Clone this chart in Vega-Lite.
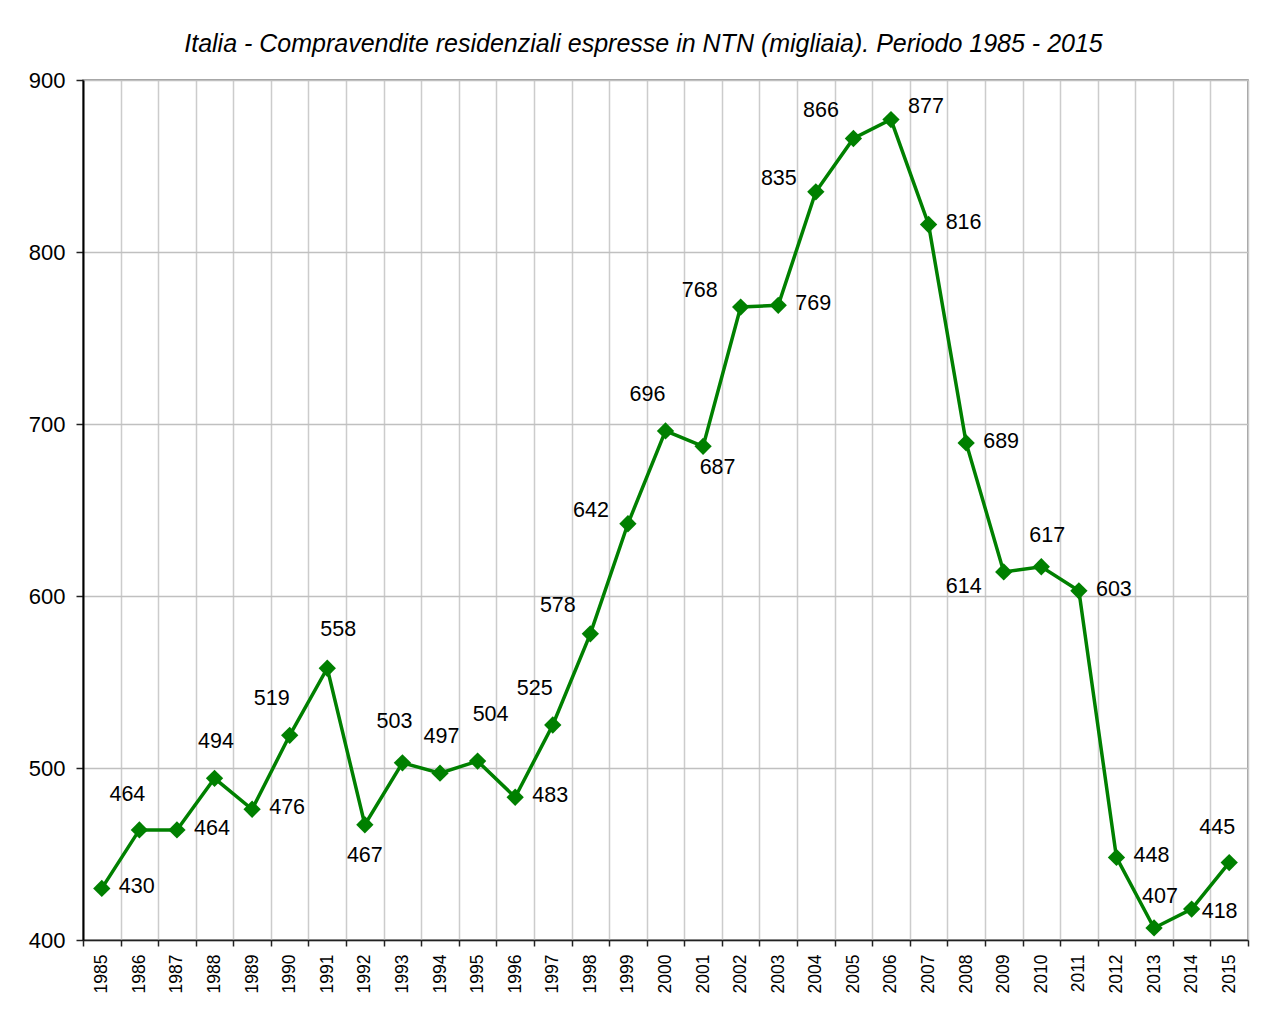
{
  "$schema": "https://vega.github.io/schema/vega-lite/v6.json",
  "width": 1165,
  "height": 860,
  "autosize": {"type": "none"},
  "padding": {"left": 83, "top": 80, "right": 13, "bottom": 70},
  "background": "white",
  "title": {
    "text": "Italia - Compravendite residenziali espresse in NTN (migliaia). Periodo 1985 - 2015",
    "font": "Liberation Sans",
    "fontSize": 25,
    "fontStyle": "italic",
    "fontWeight": "normal",
    "color": "#000000",
    "anchor": "middle",
    "frame": "group",
    "dx": -22,
    "offset": 12
  },
  "config": {
    "font": "Liberation Sans",
    "view": {"stroke": "#808080", "strokeWidth": 1.5},
    "text": {"font": "Liberation Sans", "fontSize": 21.5, "color": "#000000", "align": "center", "baseline": "middle"}
  },
  "data": {
    "values": [
      {"year": 1985, "v": 430}, {"year": 1986, "v": 464}, {"year": 1987, "v": 464},
      {"year": 1988, "v": 494}, {"year": 1989, "v": 476}, {"year": 1990, "v": 519},
      {"year": 1991, "v": 558}, {"year": 1992, "v": 467}, {"year": 1993, "v": 503},
      {"year": 1994, "v": 497}, {"year": 1995, "v": 504}, {"year": 1996, "v": 483},
      {"year": 1997, "v": 525}, {"year": 1998, "v": 578}, {"year": 1999, "v": 642},
      {"year": 2000, "v": 696}, {"year": 2001, "v": 687}, {"year": 2002, "v": 768},
      {"year": 2003, "v": 769}, {"year": 2004, "v": 835}, {"year": 2005, "v": 866},
      {"year": 2006, "v": 877}, {"year": 2007, "v": 816}, {"year": 2008, "v": 689},
      {"year": 2009, "v": 614}, {"year": 2010, "v": 617}, {"year": 2011, "v": 603},
      {"year": 2012, "v": 448}, {"year": 2013, "v": 407}, {"year": 2014, "v": 418},
      {"year": 2015, "v": 445}
    ]
  },
  "encoding": {
    "x": {
      "field": "year",
      "type": "ordinal",
      "scale": {"type": "band", "paddingInner": 0, "paddingOuter": 0},
      "axis": {
        "title": null,
        "labelAngle": -90,
        "labelFontSize": 17.5,
        "labelColor": "#000000",
        "labelPadding": 8,
        "tickBand": "extent",
        "tickSize": 6,
        "tickColor": "#222222",
        "tickWidth": 1.5,
        "domainColor": "#222222",
        "domainWidth": 1.5,
        "grid": true,
        "gridColor": "#cccccc",
        "gridWidth": 1.5
      }
    },
    "y": {
      "field": "v",
      "type": "quantitative",
      "scale": {"domain": [400, 900], "nice": false, "zero": false},
      "axis": {
        "title": null,
        "values": [400, 500, 600, 700, 800, 900],
        "labelFontSize": 22,
        "labelColor": "#000000",
        "labelPadding": 11,
        "tickSize": 7,
        "tickColor": "#222222",
        "tickWidth": 1.5,
        "domainColor": "#000000",
        "domainWidth": 2,
        "grid": true,
        "gridColor": "#c0c0c0",
        "gridWidth": 1.5
      }
    }
  },
  "layer": [
    {"mark": {"type": "line", "color": "#008000", "strokeWidth": 3.5}},
    {"mark": {"type": "point", "shape": "diamond", "filled": true, "size": 300, "color": "#008000", "opacity": 1}},
    {"transform": [{"filter": {"field": "year", "oneOf": [1985, 1987, 1989, 1996, 2003, 2007, 2008, 2011, 2012]}}],
     "mark": {"type": "text", "dx": 35, "dy": -1}, "encoding": {"text": {"field": "v"}}},
    {"transform": [{"filter": {"field": "year", "oneOf": [1986, 2015]}}],
     "mark": {"type": "text", "dx": -12, "dy": -35}, "encoding": {"text": {"field": "v"}}},
    {"transform": [{"filter": {"field": "year", "oneOf": [1990, 2000, 1997]}}],
     "mark": {"type": "text", "dx": -18, "dy": -36}, "encoding": {"text": {"field": "v"}}},
    {"transform": [{"filter": {"field": "year", "oneOf": [1988, 1994]}}],
     "mark": {"type": "text", "dx": 1.5, "dy": -36.5}, "encoding": {"text": {"field": "v"}}},
    {"transform": [{"filter": {"field": "year", "oneOf": [1991]}}],
     "mark": {"type": "text", "dx": 11, "dy": -38}, "encoding": {"text": {"field": "v"}}},
    {"transform": [{"filter": {"field": "year", "oneOf": [1995]}}],
     "mark": {"type": "text", "dx": 13, "dy": -46}, "encoding": {"text": {"field": "v"}}},
    {"transform": [{"filter": {"field": "year", "oneOf": [1993]}}],
     "mark": {"type": "text", "dx": -8, "dy": -41}, "encoding": {"text": {"field": "v"}}},
    {"transform": [{"filter": {"field": "year", "oneOf": [2010, 2013]}}],
     "mark": {"type": "text", "dx": 6, "dy": -31}, "encoding": {"text": {"field": "v"}}},
    {"transform": [{"filter": {"field": "year", "oneOf": [1992]}}],
     "mark": {"type": "text", "dx": 0, "dy": 31}, "encoding": {"text": {"field": "v"}}},
    {"transform": [{"filter": {"field": "year", "oneOf": [2001]}}],
     "mark": {"type": "text", "dx": 14.5, "dy": 22}, "encoding": {"text": {"field": "v"}}},
    {"transform": [{"filter": {"field": "year", "oneOf": [1999, 2004]}}],
     "mark": {"type": "text", "dx": -37, "dy": -12.5}, "encoding": {"text": {"field": "v"}}},
    {"transform": [{"filter": {"field": "year", "oneOf": [2002]}}],
     "mark": {"type": "text", "dx": -41, "dy": -16}, "encoding": {"text": {"field": "v"}}},
    {"transform": [{"filter": {"field": "year", "oneOf": [1998, 2005]}}],
     "mark": {"type": "text", "dx": -32.5, "dy": -27.5}, "encoding": {"text": {"field": "v"}}},
    {"transform": [{"filter": {"field": "year", "oneOf": [2006]}}],
     "mark": {"type": "text", "dx": 35, "dy": -13}, "encoding": {"text": {"field": "v"}}},
    {"transform": [{"filter": {"field": "year", "oneOf": [2009]}}],
     "mark": {"type": "text", "dx": -40, "dy": 15}, "encoding": {"text": {"field": "v"}}},
    {"transform": [{"filter": {"field": "year", "oneOf": [2014]}}],
     "mark": {"type": "text", "dx": 28, "dy": 3}, "encoding": {"text": {"field": "v"}}}
  ]
}
